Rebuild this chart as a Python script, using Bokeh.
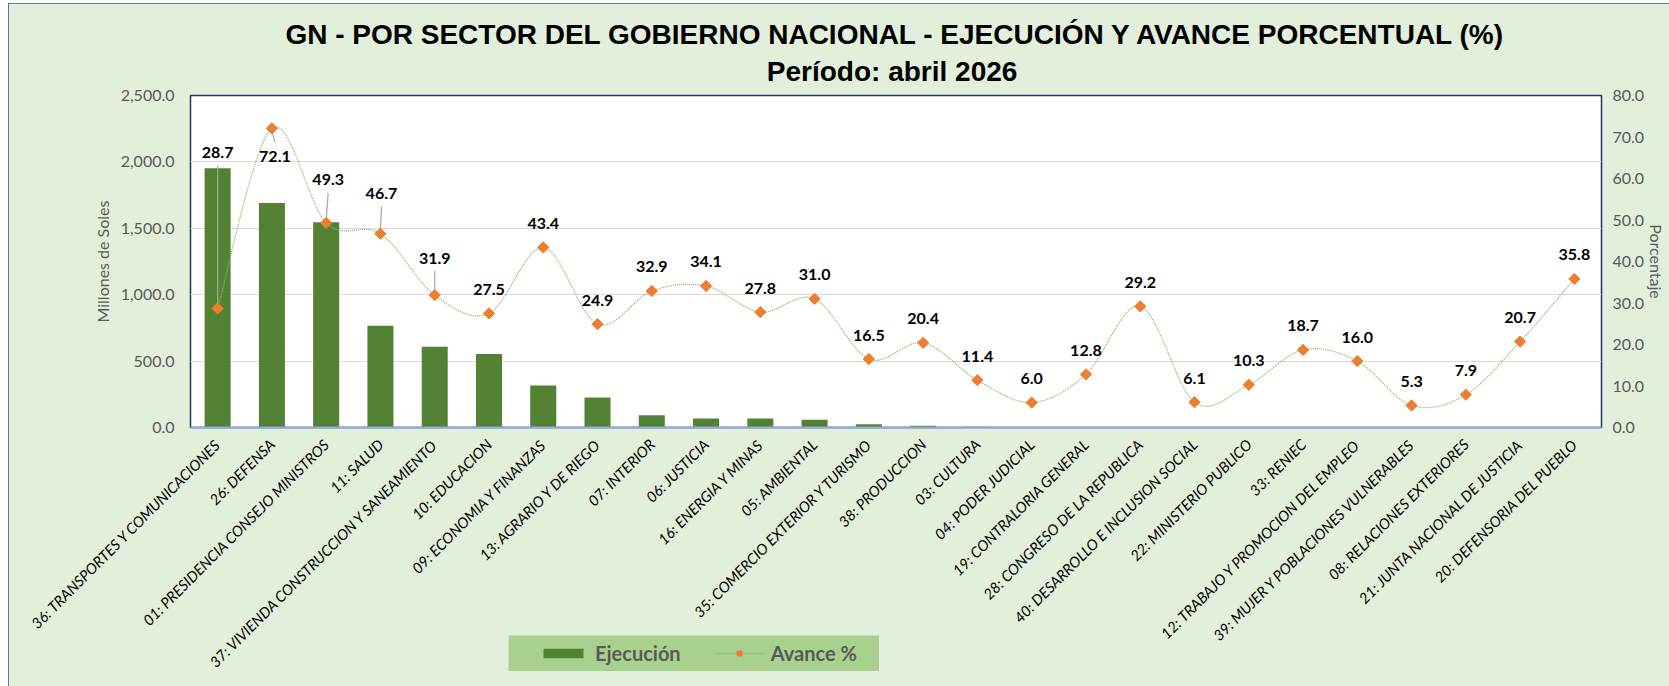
import math
from bokeh.plotting import figure
from bokeh.layouts import column
from bokeh.models import (Range1d, LinearAxis, NumeralTickFormatter, Legend, LegendItem,
                          ColumnDataSource, Title, FactorRange, FixedTicker)
from bokeh.embed import file_html
from bokeh.resources import INLINE
from bokeh.core.properties import value

# ---------------- data ----------------
sectores = [
    "36: TRANSPORTES Y COMUNICACIONES", "26: DEFENSA", "01: PRESIDENCIA CONSEJO MINISTROS",
    "11: SALUD", "37: VIVIENDA CONSTRUCCION Y SANEAMIENTO", "10: EDUCACION",
    "09: ECONOMIA Y FINANZAS", "13: AGRARIO Y DE RIEGO", "07: INTERIOR", "06: JUSTICIA",
    "16: ENERGIA Y MINAS", "05: AMBIENTAL", "35: COMERCIO EXTERIOR Y TURISMO",
    "38: PRODUCCION", "03: CULTURA", "04: PODER JUDICIAL", "19: CONTRALORIA GENERAL",
    "28: CONGRESO DE LA REPUBLICA", "40: DESARROLLO E INCLUSION SOCIAL",
    "22: MINISTERIO PUBLICO", "33: RENIEC", "12: TRABAJO Y PROMOCION DEL EMPLEO",
    "39: MUJER Y POBLACIONES VULNERABLES", "08: RELACIONES EXTERIORES",
    "21: JUNTA NACIONAL DE JUSTICIA", "20: DEFENSORIA DEL PUEBLO",
]
ejecucion = [1952, 1691, 1545, 766, 608, 553, 316, 226, 93, 68, 67, 58, 25,
             13, 5, 4, 3, 3, 2.5, 2, 2, 1.5, 1.5, 1, 1, 0.8]
avance = [28.7, 72.1, 49.3, 46.7, 31.9, 27.5, 43.4, 24.9, 32.9, 34.1, 27.8, 31.0, 16.5,
          20.4, 11.4, 6.0, 12.8, 29.2, 6.1, 10.3, 18.7, 16.0, 5.3, 7.9, 20.7, 35.8]
left_ticks = [0, 500, 1000, 1500, 2000, 2500]
right_ticks = [0, 10, 20, 30, 40, 50, 60, 70, 80]
titulo = "GN - POR SECTOR DEL GOBIERNO NACIONAL - EJECUCIÓN Y AVANCE PORCENTUAL (%)"
subtitulo = "Período:  abril 2026"

# ---------------- styles (label placement in pixels) ----------------
label_up_px = [156, -28, 43, 40, 37] + [24] * (len(avance) - 5)
label_dx_px = [0, 3, 2, 1, 0] + [0] * (len(avance) - 5)
leader = [True, True, True, True, True] + [False] * (len(avance) - 5)

FRAME_H = 332
PPU = FRAME_H / 80.0

BG = "#E2EFDA"
BAR = "#548235"
ORANGE = "#ED7D31"
LINEC = "#8DB56B"
GRAY = "#595959"

p = figure(x_range=FactorRange(factors=sectores), y_range=Range1d(0, 2500),
           width=1661, height=683, output_backend="svg", toolbar_location=None,
           title=None, background_fill_color="white", border_fill_color=BG,
           min_border_left=182, min_border_right=68, min_border_top=92,
           min_border_bottom=259, outline_line_color="#1F3864", outline_line_width=1.5)
p.styles = {"outline": "2px solid #2F5597", "outline-offset": "-2px"}
p.frame_align = False
p.margin = (3, 0, 0, 8)
p.extra_y_ranges = {"pct": Range1d(0, 80)}

# titles
p.add_layout(Title(text=subtitulo, align="center", text_font_size="28px",
                   text_font="Liberation Sans", text_font_style="bold", text_color="black",
                   standoff=18), "above")
p.add_layout(Title(text=titulo, align="center", text_font_size="28px", text_font="Liberation Sans",
                   text_font_style="bold", text_color="black", standoff=-10), "above")

# bars
src = ColumnDataSource(dict(x=sectores, ej=ejecucion))
bars = p.vbar(x="x", top="ej", width=0.48, source=src, fill_color=BAR, line_color=None)

# smooth line as bezier segments (Catmull-Rom -> Bezier) on synthetic x coordinates
n = len(avance)
xs = [i + 0.5 for i in range(n)]
x0, y0, x1, y1, cx0, cy0, cx1, cy1 = [], [], [], [], [], [], [], []
for i in range(n - 1):
    im1 = max(i - 1, 0)
    ip2 = min(i + 2, n - 1)
    x0.append(xs[i]); y0.append(avance[i])
    x1.append(xs[i + 1]); y1.append(avance[i + 1])
    cx0.append(xs[i] + (xs[i + 1] - xs[im1]) / 6.0)
    cy0.append(avance[i] + (avance[i + 1] - avance[im1]) / 6.0)
    cx1.append(xs[i + 1] - (xs[ip2] - xs[i]) / 6.0)
    cy1.append(avance[i + 1] - (avance[ip2] - avance[i]) / 6.0)
p.bezier(x0=x0, y0=y0, x1=x1, y1=y1, cx0=cx0, cy0=cy0, cx1=cx1, cy1=cy1,
         y_range_name="pct", line_color=LINEC, line_width=1.3, line_dash="1 1")

# leader lines
lx0, ly0, lx1, ly1 = [], [], [], []
for i in range(n):
    if leader[i]:
        up = label_up_px[i]
        if up > 0:
            a, b = 3, up - 13
        else:
            a, b = -3, up + 14
        lx0.append(xs[i]); ly0.append(avance[i] + a / PPU)
        lx1.append(xs[i] + label_dx_px[i] / 54.25); ly1.append(avance[i] + b / PPU)
p.segment(x0=lx0, y0=ly0, x1=lx1, y1=ly1, y_range_name="pct", line_color="#A6A6A6", line_width=1.2)

# markers
msrc = ColumnDataSource(dict(x=sectores, y=avance))
p.scatter(x="x", y="y", source=msrc, y_range_name="pct", marker="square",
          angle=math.pi / 4, size=8, fill_color=ORANGE, line_color=ORANGE)

# data labels
lsrc = ColumnDataSource(dict(x=sectores, y=avance, t=["%.1f" % v for v in avance],
                             dy=[-u for u in label_up_px], dx=label_dx_px))
p.text(x="x", y="y", text="t", source=lsrc, y_range_name="pct", x_offset="dx", y_offset="dy",
       text_align="center", text_baseline="middle", text_font=value("Lato"),
       text_font_style="bold", text_font_size="16px", text_color="black")

# axes
p.xgrid.visible = False
p.ygrid.grid_line_color = "#D9D9D9"
p.ygrid.grid_line_width = 1

yl = p.yaxis[0]
yl.ticker = FixedTicker(ticks=left_ticks)
yl.formatter = NumeralTickFormatter(format="0,0.0")
yl.axis_label = "Millones de Soles"
yr = LinearAxis(y_range_name="pct", ticker=FixedTicker(ticks=right_ticks),
                formatter=NumeralTickFormatter(format="0.0"), axis_label="Porcentaje")
p.add_layout(yr, "right")
for ax in (yl, yr):
    ax.axis_line_color = None
    ax.major_tick_line_color = None
    ax.minor_tick_line_color = None
    ax.major_tick_out = 0
    ax.minor_tick_out = 0
    ax.major_label_text_color = GRAY
    ax.major_label_text_font = "Lato"
    ax.major_label_text_font_size = "16px"
    ax.axis_label_text_color = GRAY
    ax.axis_label_text_font = "Lato"
    ax.axis_label_text_font_size = "16px"
    ax.axis_label_text_font_style = "normal"
yl.major_label_standoff = 16
yl.axis_label_standoff = 6
yr.major_label_standoff = 11
yr.axis_label_standoff = 0

xa = p.xaxis[0]
xa.major_label_orientation = math.pi / 4
xa.axis_line_color = "#8FAADC"
xa.axis_line_width = 2
xa.major_tick_line_color = None
xa.minor_tick_line_color = None
xa.major_tick_out = 0
xa.minor_tick_out = 0
xa.major_label_text_font = "Lato"
xa.major_label_text_font_style = "italic"
xa.major_label_text_font_size = "14.8px"
xa.major_label_text_color = "black"
xa.major_label_standoff = 14

# legend, drawn in a small overlapping figure (proxy glyphs lie outside its ranges)
lf = figure(width=371, height=36, x_range=Range1d(0, 1), y_range=Range1d(0, 1),
            toolbar_location=None, output_backend="svg", min_border=0,
            min_border_left=0, min_border_right=0, min_border_top=0, min_border_bottom=0,
            x_axis_location=None, y_axis_location=None,
            background_fill_color="#A9D18E", border_fill_alpha=0, outline_line_color=None)
lf.frame_align = False
lf.grid.visible = False
lb = lf.vbar(x=[5], top=[5], bottom=[4], width=0.5, fill_color=BAR, line_color=None)
ll = lf.line(x=[5, 6], y=[5, 5], line_color=LINEC, line_width=1.3, line_dash="1 1")
lm = lf.scatter(x=[5], y=[5], marker="square", angle=math.pi / 4, size=8,
                fill_color=ORANGE, line_color=ORANGE)
legend = Legend(items=[LegendItem(label="Ejecución", renderers=[lb]),
                       LegendItem(label="Avance %", renderers=[ll, lm])],
                orientation="horizontal", location="left",
                background_fill_alpha=0, border_line_color=None, padding=0, spacing=33,
                margin=30, glyph_width=50, glyph_height=12, label_standoff=7,
                label_text_font="Lato", label_text_font_style="bold",
                label_text_font_size="20px", label_text_color=GRAY)
lf.add_layout(legend, "center")
lf.margin = (-51, 0, 0, 508)

layout = column(p, lf, spacing=0)
open("out.html", "w").write(file_html(layout, INLINE))
